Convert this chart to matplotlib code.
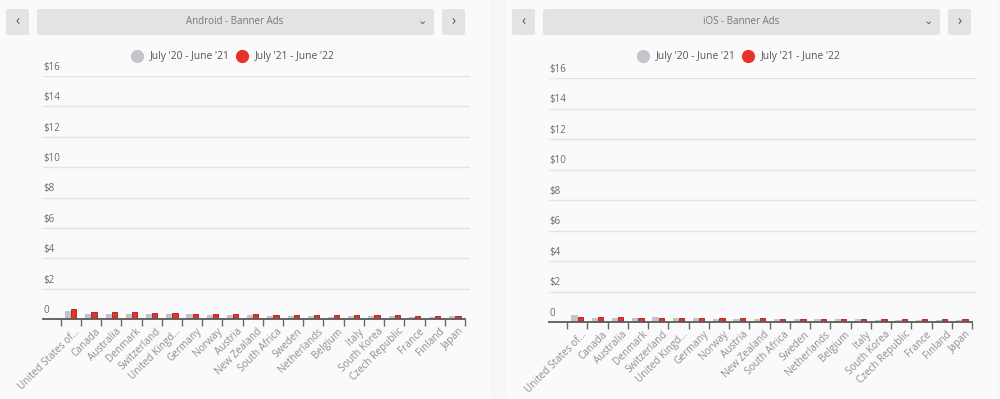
import numpy as np
import matplotlib.pyplot as plt
import matplotlib.transforms as mtransforms
from matplotlib.patches import FancyBboxPatch
from matplotlib.lines import Line2D

countries = ["United States of...", "Canada", "Australia", "Denmark", "Switzerland",
             "United Kingd...", "Germany", "Norway", "Austria", "New Zealand",
             "South Africa", "Sweden", "Netherlands", "Belgium", "Italy",
             "South Korea", "Czech Republic", "France", "Finland", "Japan"]

android_prev = [0.50, 0.35, 0.35, 0.33, 0.33, 0.30, 0.30, 0.28, 0.28, 0.28,
                0.20, 0.22, 0.20, 0.15, 0.20, 0.22, 0.20, 0.15, 0.15, 0.18]
android_curr = [0.66, 0.48, 0.44, 0.44, 0.42, 0.40, 0.36, 0.32, 0.32, 0.30,
                0.27, 0.27, 0.28, 0.27, 0.26, 0.25, 0.24, 0.22, 0.20, 0.20]
ios_prev = [0.44, 0.25, 0.28, 0.28, 0.35, 0.25, 0.25, 0.20, 0.22, 0.22,
            0.20, 0.18, 0.20, 0.18, 0.18, 0.15, 0.15, 0.15, 0.15, 0.12]
ios_curr = [0.35, 0.30, 0.30, 0.28, 0.28, 0.26, 0.26, 0.28, 0.25, 0.25,
            0.22, 0.20, 0.20, 0.20, 0.18, 0.18, 0.18, 0.18, 0.17, 0.17]

y_ticks = [0, 2, 4, 6, 8, 10, 12, 14, 16]
y_labels = ["0", "$2", "$4", "$6", "$8", "$10", "$12", "$14", "$16"]
series_names = ["July '20 - June '21", "July '21 - June '22"]
titles = ["Android - Banner Ads", "iOS - Banner Ads"]

plt.rcParams['font.family'] = ['Open Sans', 'DejaVu Sans']

W, H = 1000, 399
fig = plt.figure(figsize=(10, 3.99), dpi=100)
fig.patch.set_facecolor('#f7f7fa')

GRAY = '#c4c5c8'
RED = '#e5332a'
TXT = '#6b6b6b'


def fx(px):
    return px / W


def fy(py):
    return 1 - py / H


def button(x0, y0, x1, y1):
    fig.patches.append(FancyBboxPatch((fx(x0), fy(y1)), fx(x1 - x0), (y1 - y0) / H,
                                      boxstyle="round,pad=0,rounding_size=0.004",
                                      transform=fig.transFigure, facecolor='#e3e3e6',
                                      edgecolor='none', zorder=0))


def panel(px0, px_first_tick, px_last_tick, px_right, py_top, py_base, ox,
          prev, curr, title):
    # background card
    fig.patches.append(FancyBboxPatch((fx(ox), 0), fx(490), 1,
                                      boxstyle="square,pad=0", transform=fig.transFigure,
                                      facecolor='#fafafc', edgecolor='none', zorder=-1))
    # header
    button(ox + 6, 9, ox + 29, 35)
    button(ox + 37, 9, ox + 434, 35)
    button(ox + 442, 9, ox + 465, 35)
    fig.text(fx(ox + 17.5), fy(22), '‹', ha='center', va='center', fontsize=10, color='#555')
    fig.text(fx(ox + 453.5), fy(22), '›', ha='center', va='center', fontsize=10, color='#555')
    fig.text(fx(ox + 235), fy(22), title, ha='center', va='center', fontsize=7, color='#777')
    fig.text(fx(ox + 422), fy(21), '⌄', ha='center', va='center', fontsize=8, color='#555')

    # legend
    for cx, col, name in [(ox + 137, GRAY, series_names[0]), (ox + 242, RED, series_names[1])]:
        fig.add_artist(Line2D([fx(cx)], [fy(56)], marker='o', markersize=8.5,
                              color=col, transform=fig.transFigure))
        fig.text(fx(cx + 13), fy(56), name, ha='left', va='center', fontsize=7.4, color='#555')

    step = (px_last_tick - px_first_tick) / 20
    c0 = px_first_tick + step / 2
    xmin = (px0 - c0) / step
    xmax = (px_right - c0) / step
    ax = fig.add_axes([fx(px0), fy(py_base), fx(px_right - px0), (py_base - py_top) / H])
    ax.set_facecolor('none')
    ax.set_xlim(xmin, xmax)
    ax.set_ylim(0, 16)

    x = np.arange(len(countries))
    ax.bar(x - 0.15, prev, width=0.26, color=GRAY, edgecolor='#b5b6b9', linewidth=0.5, zorder=3)
    ax.bar(x + 0.15, curr, width=0.26, color=RED, edgecolor='#a51d17', linewidth=0.6, zorder=3)

    for v in y_ticks[1:]:
        ax.axhline(v, color='#e2e3e6', linewidth=1, zorder=1)
    ax.plot([xmin, 19.5], [0, 0], color='#5a5a5a', linewidth=1.3, zorder=4, clip_on=False)
    for s in ax.spines.values():
        s.set_visible(False)
    ax.set_yticks([])
    for v, lab in zip(y_ticks, y_labels):
        ax.text(xmin, v + 0.2, lab, ha='left', va='bottom', fontsize=7, color=TXT)

    ax.set_xticks(np.arange(21) - 0.5)
    ax.set_xticklabels([])
    ax.tick_params(axis='x', which='major', direction='out', length=5, width=1, color='#6a6a6a')
    ax.set_xticks(x, minor=True)
    ax.set_xticklabels(countries, minor=True, rotation=45, ha='right', rotation_mode='anchor',
                       fontsize=7.2, color='#8f8f8f')
    ax.tick_params(axis='x', which='minor', length=0, pad=5)
    shift = mtransforms.ScaledTranslation(4 / 100, 0, fig.dpi_scale_trans)
    for lab in ax.get_xticklabels(minor=True):
        lab.set_transform(lab.get_transform() + shift)


panel(43, 60.7, 465, 470, 76, 319, 0, android_prev, android_curr, titles[0])
panel(549, 567, 972, 977, 78, 322, 506, ios_prev, ios_curr, titles[1])

fig.savefig('out.png', dpi=100, facecolor=fig.get_facecolor())
